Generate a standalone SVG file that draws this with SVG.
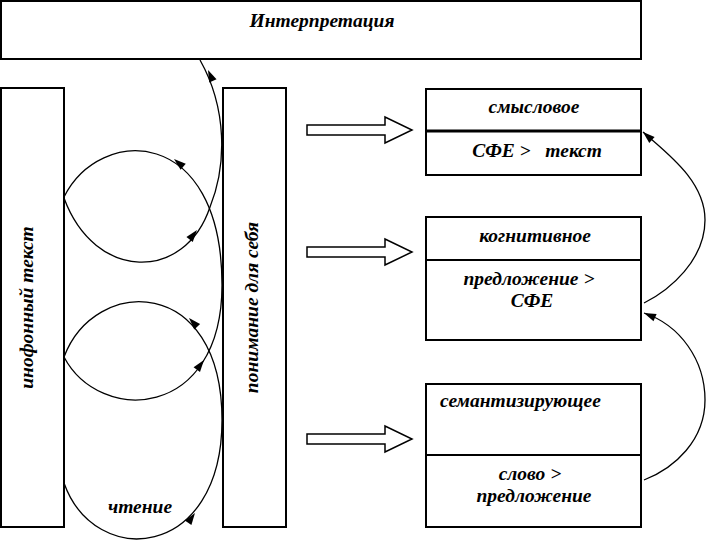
<svg xmlns="http://www.w3.org/2000/svg" xmlns:xlink="http://www.w3.org/1999/xlink" width="706" height="546" viewBox="0 0 706 546">
<style>
.box{fill:#fff;stroke:#000;stroke-width:2}
.div{stroke:#000;stroke-width:2}
.t{font-family:"Liberation Serif","Times New Roman",serif;font-weight:bold;font-style:italic;font-size:19.5px;fill:#000}
.c{text-anchor:middle}
.cur{fill:none;stroke:#000;stroke-width:1.3}
.ha{fill:#fff;stroke:#000;stroke-width:1.5}
</style>
<defs>
<polygon id="ah" points="0,0 -12,-4 -12,4" fill="#000"/>
</defs>
<rect width="706" height="546" fill="#fff"/>

<g id="interpretation">
<rect class="box" x="1" y="1" width="640" height="58"/>
<text class="t c" x="322" y="27">Интерпретация</text>
</g>

<g id="foreign-text">
<rect class="box" x="1" y="88" width="63" height="439"/>
<text class="t c" transform="translate(33,307.5) rotate(-90)">инофонный текст</text>
</g>

<g id="self-understanding">
<rect class="box" x="223" y="88" width="63" height="439"/>
<text class="t c" transform="translate(257.5,307.5) rotate(-90)">понимание для себя</text>
</g>

<g id="semantic">
<rect class="box" x="426" y="89" width="215" height="86"/>
<line class="div" x1="426" y1="131" x2="641" y2="131" style="stroke-width:3"/>
<text class="t c" x="534" y="113">смысловое</text>
<text class="t c" x="537" y="157" xml:space="preserve">СФЕ &gt;   текст</text>
</g>

<g id="cognitive">
<rect class="box" x="426" y="217" width="215" height="123"/>
<line class="div" x1="426" y1="260" x2="641" y2="260"/>
<text class="t c" x="535" y="242">когнитивное</text>
<text class="t c" x="529" y="285">предложение &gt;</text>
<text class="t c" x="532" y="307">СФЕ</text>
</g>

<g id="semantizing">
<rect class="box" x="426" y="384" width="215" height="143"/>
<line class="div" x1="426" y1="455" x2="641" y2="455"/>
<text class="t" x="440" y="407">семантизирующее</text>
<text class="t c" x="530" y="480">слово &gt;</text>
<text class="t c" x="534" y="502">предложение</text>
</g>

<g id="connectors">
<polygon class="ha" points="307,125 385,125 385,117 412,130 385,143 385,135 307,135"/>
<polygon class="ha" points="307,247 385,247 385,239 412,252 385,265 385,257 307,257"/>
<polygon class="ha" points="307,434 385,434 385,426 412,439 385,452 385,444 307,444"/>

<path class="cur" d="M64,483 C95,570 222,560 222,420 C222,275 95,275 64,357"/>
<path class="cur" d="M64,357 C100,425 222,420 222,285 C222,125 100,125 64,197"/>
<path class="cur" d="M64,198 C95,282 185,282 210,207 C227,165 227,108 200,60"/>
<path class="cur" d="M644,303 C670,290 705,260 705,220 C705,180 665,152 643,132"/>
<path class="cur" d="M644,480 C675,468 705,440 705,400 C705,360 680,325 644,313"/>

<use xlink:href="#ah" transform="translate(195,513) rotate(-55)"/>
<use xlink:href="#ah" transform="translate(189,318) rotate(-133)"/>
<use xlink:href="#ah" transform="translate(204,360) rotate(-53)"/>
<use xlink:href="#ah" transform="translate(174,159) rotate(-140)"/>
<use xlink:href="#ah" transform="translate(197,230) rotate(-52)"/>
<use xlink:href="#ah" transform="translate(208,70) rotate(-114)"/>
<use xlink:href="#ah" transform="translate(643,132) rotate(-138)"/>
<use xlink:href="#ah" transform="translate(644,313) rotate(-157)"/>

<text class="t c" x="140" y="513">чтение</text>
</g>
</svg>
